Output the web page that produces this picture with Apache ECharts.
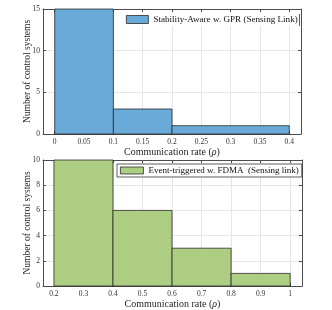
<!DOCTYPE html>
<html><head><meta charset="utf-8">
<script src="https://cdn.jsdelivr.net/npm/echarts@6/dist/echarts.min.js"></script>
<style>html,body{margin:0;padding:0;background:#fff}#c{width:332px;height:310px}</style>
</head><body><div id="c"></div>
<script>
// Top histogram: Stability-Aware w. GPR (Sensing Link)
const topEdges = [0, 0.1, 0.2, 0.4];
const topCounts = [15, 3, 1];
const topXTicks = [0, 0.05, 0.1, 0.15, 0.2, 0.25, 0.3, 0.35, 0.4];
const topYTicks = [0, 5, 10, 15];
const topName = 'Stability-Aware w. GPR (Sensing Link)';

// Bottom histogram: Event-triggered w. FDMA (Sensing link)
const botEdges = [0.2, 0.4, 0.6, 0.8, 1.0];
const botCounts = [10, 6, 3, 1];
const botXTicks = [0.2, 0.3, 0.4, 0.5, 0.6, 0.7, 0.8, 0.9, 1];
const botYTicks = [0, 2, 4, 6, 8, 10];
const botName = 'Event-triggered w. FDMA  (Sensing link)';

const xLabel = 'Communication rate ({i|\u03c1})';
const yLabel = 'Number of control systems';

function bins(edges, counts) {
  return counts.map((c, i) => [edges[i], edges[i + 1], c]);
}

const font = 'Liberation Serif';
const axisCol = '#4d4d4d';
const gridCol = '#e6e6e6';

function renderBar(params, api) {
  const p0 = api.coord([api.value(0), api.value(2)]);
  const p1 = api.coord([api.value(1), 0]);
  return {
    type: 'rect',
    shape: { x: p0[0], y: p0[1], width: p1[0] - p0[0], height: p1[1] - p0[1] },
    style: api.style({ stroke: '#2b2b2b', lineWidth: 0.8 })
  };
}

function xAxisMain(gi, min, max, ticks) {
  return {
    type: 'value', gridIndex: gi, min: min, max: max,
    name: xLabel, nameLocation: 'middle', nameGap: 13,
    nameTextStyle: { fontFamily: font, fontSize: 10, color: '#262626',
      rich: { i: { fontFamily: font, fontSize: 10, fontStyle: 'italic', color: '#262626' } } },
    axisLine: { show: true, onZero: false, lineStyle: { color: axisCol, width: 1 } },
    axisTick: { show: true, inside: true, length: 3, customValues: ticks, lineStyle: { color: axisCol } },
    axisLabel: { customValues: ticks, margin: 4, fontFamily: font, fontSize: 7.5, color: '#333',
      formatter: v => String(+v.toFixed(2)) },
    splitLine: { show: true, lineStyle: { color: gridCol, width: 1 } }
  };
}
function xAxisMirror(gi, min, max, ticks) {
  return {
    type: 'value', gridIndex: gi, min: min, max: max, position: 'top',
    axisLine: { show: true, onZero: false, lineStyle: { color: axisCol, width: 1 } },
    axisTick: { show: true, inside: true, length: 3, customValues: ticks, lineStyle: { color: axisCol } },
    axisLabel: { show: false, customValues: ticks },
    splitLine: { show: false }
  };
}
function yAxisMain(gi, max, interval) {
  return {
    type: 'value', gridIndex: gi, min: 0, max: max, interval: interval,
    name: yLabel, nameLocation: 'middle', nameGap: 11, nameMoveOverlap: false,
    nameTextStyle: { fontFamily: font, fontSize: 9.5, color: '#262626' },
    axisLine: { show: true, onZero: false, lineStyle: { color: axisCol, width: 1 } },
    axisTick: { show: true, inside: true, length: 3, lineStyle: { color: axisCol } },
    axisLabel: { margin: 3, fontFamily: font, fontSize: 7.5, color: '#333' },
    splitLine: { show: true, lineStyle: { color: gridCol, width: 1 } }
  };
}
function yAxisMirror(gi, max, interval) {
  return {
    type: 'value', gridIndex: gi, min: 0, max: max, interval: interval, position: 'right',
    axisLine: { show: true, onZero: false, lineStyle: { color: axisCol, width: 1 } },
    axisTick: { show: true, inside: true, length: 3, lineStyle: { color: axisCol } },
    axisLabel: { show: false },
    splitLine: { show: false }
  };
}

const chart = echarts.init(document.getElementById('c'), null, { renderer: 'canvas' });
chart.setOption({
  animation: false,
  backgroundColor: '#fff',
  grid: [
    { left: 43, top: 9, width: 258, height: 125 },
    { left: 43, top: 160, width: 259, height: 126 }
  ],
  xAxis: [
    xAxisMain(0, -0.02, 0.42, topXTicks),
    xAxisMain(1, 0.163, 1.04, botXTicks),
    xAxisMirror(0, -0.02, 0.42, topXTicks),
    xAxisMirror(1, 0.163, 1.04, botXTicks)
  ],
  yAxis: [
    yAxisMain(0, topYTicks[topYTicks.length - 1], 5),
    yAxisMain(1, botYTicks[botYTicks.length - 1], 2),
    yAxisMirror(0, topYTicks[topYTicks.length - 1], 5),
    yAxisMirror(1, botYTicks[botYTicks.length - 1], 2)
  ],
  legend: [
    { data: [topName], left: 123, top: 13, padding: [2, 3, 2, 3], itemWidth: 22, itemHeight: 8, icon: 'rect',
      backgroundColor: '#fff', borderWidth: 0,
      itemStyle: { borderColor: '#2b2b2b', borderWidth: 0.8 },
      textStyle: { fontFamily: font, fontSize: 9.1, color: '#111' } },
    { data: [botName], left: 117, top: 164, padding: [2, 3, 2, 3], itemWidth: 23, itemHeight: 7, icon: 'rect',
      backgroundColor: '#fff', borderColor: '#333', borderWidth: 0.8, borderRadius: 0,
      itemStyle: { borderColor: '#2b2b2b', borderWidth: 0.8 },
      textStyle: { fontFamily: font, fontSize: 9.0, color: '#111' } }
  ],
  graphic: [
    { type: 'line', shape: { x1: 299.5, y1: 14, x2: 299.5, y2: 26 }, style: { stroke: '#333', lineWidth: 0.8 }, z: 100 }
  ],
  series: [
    { type: 'custom', name: topName, xAxisIndex: 0, yAxisIndex: 0, renderItem: renderBar,
      itemStyle: { color: '#6aaad8' }, encode: { x: [0, 1], y: 2 }, data: bins(topEdges, topCounts) },
    { type: 'custom', name: botName, xAxisIndex: 1, yAxisIndex: 1, renderItem: renderBar,
      itemStyle: { color: '#adcd83' }, encode: { x: [0, 1], y: 2 }, data: bins(botEdges, botCounts) }
  ]
});
</script></body></html>
